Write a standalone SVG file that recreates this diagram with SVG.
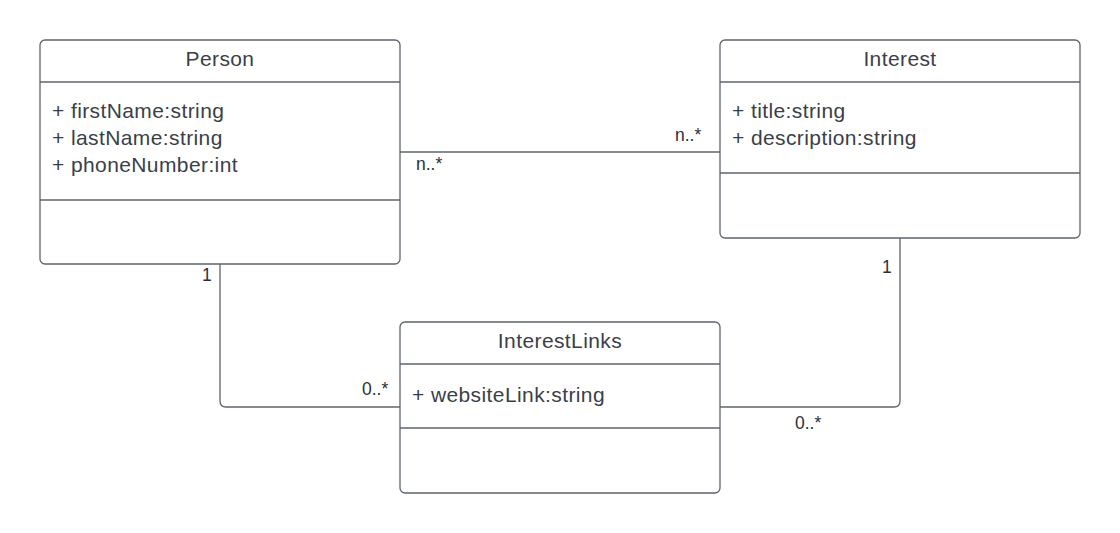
<svg xmlns="http://www.w3.org/2000/svg" width="1120" height="533" viewBox="0 0 1120 533">
<style>
.box{fill:#fff;stroke:#5e646e;stroke-width:1.3}
.div{stroke:#5e646e;stroke-width:1.3}
.title{font-family:"Liberation Sans",Arial,sans-serif;font-size:21px;letter-spacing:0.4px;fill:#3a3f48;text-anchor:middle}
.attr{font-family:"Liberation Sans",Arial,sans-serif;font-size:21px;letter-spacing:0.4px;fill:#3a3f48}
.lbl{font-family:"Liberation Sans",Arial,sans-serif;font-size:17.5px;fill:#2a2f36}
.conn{fill:none;stroke:#5e646e;stroke-width:1.3}
</style>
<rect width="1120" height="533" fill="#fff"/>
<g id="connectors">
<line class="conn" x1="400" y1="152" x2="720" y2="152"/>
<path class="conn" d="M220 264 V401 Q220 407 226 407 H400"/>
<path class="conn" d="M900 238 V401 Q900 407 894 407 H720"/>
<text class="lbl" x="416" y="170">n..*</text>
<text class="lbl" x="675" y="141">n..*</text>
<text class="lbl" x="202" y="281">1</text>
<text class="lbl" x="362" y="395">0..*</text>
<text class="lbl" x="882" y="273">1</text>
<text class="lbl" x="795" y="429">0..*</text>
</g>
<g id="Person">
<rect class="box" x="40" y="40" width="360" height="224" rx="5"/>
<line class="div" x1="40" y1="82" x2="400" y2="82"/>
<line class="div" x1="40" y1="200" x2="400" y2="200"/>
<text class="title" x="220" y="66">Person</text>
<text class="attr" x="52" y="118">+ firstName:string</text>
<text class="attr" x="52" y="145">+ lastName:string</text>
<text class="attr" x="52" y="172">+ phoneNumber:int</text>
</g>
<g id="Interest">
<rect class="box" x="720" y="40" width="360" height="198" rx="5"/>
<line class="div" x1="720" y1="82" x2="1080" y2="82"/>
<line class="div" x1="720" y1="173" x2="1080" y2="173"/>
<text class="title" x="900" y="66">Interest</text>
<text class="attr" x="732" y="118">+ title:string</text>
<text class="attr" x="732" y="145">+ description:string</text>
</g>
<g id="InterestLinks">
<rect class="box" x="400" y="322" width="320" height="171" rx="5"/>
<line class="div" x1="400" y1="364" x2="720" y2="364"/>
<line class="div" x1="400" y1="428" x2="720" y2="428"/>
<text class="title" x="560" y="348">InterestLinks</text>
<text class="attr" x="412" y="402">+ websiteLink:string</text>
</g>
</svg>
